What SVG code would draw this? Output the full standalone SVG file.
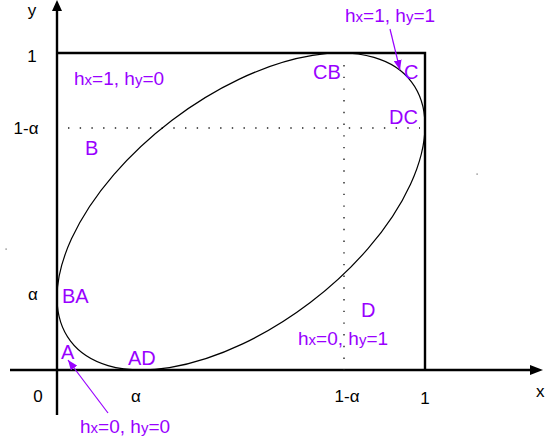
<svg xmlns="http://www.w3.org/2000/svg" width="545" height="444" viewBox="0 0 545 444">
<style>
.ax{stroke:#000;stroke-width:2.4;fill:none}
.dot{stroke:#222;stroke-width:1.4;stroke-dasharray:1.4 10.3;fill:none}
.lbl{font-family:"Liberation Sans",Arial,sans-serif;font-size:17px;fill:#000}
.p{font-family:"Liberation Sans",Arial,sans-serif;font-size:20px;fill:#9900ff}
.h{font-family:"Liberation Sans",Arial,sans-serif;font-size:19px;fill:#9900ff}
.s{font-size:15px}
.pa{stroke:#9900ff;stroke-width:1.2;fill:none;marker-end:url(#pm)}
</style>
<defs>
<marker id="pm" viewBox="0 0 10 8" refX="10" refY="4" markerWidth="10" markerHeight="8" markerUnits="userSpaceOnUse" orient="auto">
<path d="M0,0 L10,4 L0,8 Z" fill="#9900ff"/>
</marker>
</defs>
<rect width="545" height="444" fill="#fff"/>
<g id="connectors">
<line class="ax" x1="57" y1="8" x2="57" y2="415"/>
<path d="M57,0 L52,11 L62,11 Z" fill="#000"/>
<line class="ax" x1="10" y1="370" x2="533" y2="370"/>
<path d="M543,370 L530,365 L530,375 Z" fill="#000"/>
<path class="ax" d="M57,53 H425 V370"/>
<line class="dot" x1="344" y1="65" x2="344" y2="370"/>
<line class="dot" x1="68" y1="128" x2="420" y2="128"/>
<ellipse cx="241" cy="211.5" rx="214.2" ry="114.4" transform="rotate(-37.27 241 211.5)" fill="none" stroke="#000" stroke-width="1.2"/>
<line class="pa" x1="390" y1="29" x2="400" y2="70"/>
<line class="pa" x1="108" y1="413" x2="68" y2="360"/>
<rect x="476.5" y="173.5" width="1.2" height="1.2" fill="#666"/>
<rect x="5.5" y="248.5" width="1.2" height="1.2" fill="#666"/>
</g>
<g id="axis-labels">
<text class="lbl" x="32" y="16" text-anchor="middle">y</text>
<text class="lbl" x="32" y="62" text-anchor="middle">1</text>
<text class="lbl" x="26" y="134" text-anchor="middle">1-α</text>
<text class="lbl" x="33" y="300" text-anchor="middle">α</text>
<text class="lbl" x="38" y="402" text-anchor="middle">0</text>
<text class="lbl" x="136" y="402" text-anchor="middle">α</text>
<text class="lbl" x="347" y="402" text-anchor="middle">1-α</text>
<text class="lbl" x="425" y="404" text-anchor="middle">1</text>
<text class="lbl" x="536" y="397">x</text>
</g>
<g id="region-labels">
<text class="p" x="313" y="79">CB</text>
<text class="p" x="404" y="79">C</text>
<text class="p" x="389" y="124">DC</text>
<text class="p" x="85" y="155">B</text>
<text class="p" x="62" y="303">BA</text>
<text class="p" x="61" y="359">A</text>
<text class="p" x="128" y="365">AD</text>
<text class="p" x="361" y="317">D</text>
</g>
<g id="h-labels">
<text class="h" x="345" y="22">h<tspan class="s">x</tspan>=1, h<tspan class="s">y</tspan>=1</text>
<text class="h" x="74" y="85">h<tspan class="s">x</tspan>=1, h<tspan class="s">y</tspan>=0</text>
<text class="h" x="298" y="345">h<tspan class="s">x</tspan>=0, h<tspan class="s">y</tspan>=1</text>
<text class="h" x="80" y="433">h<tspan class="s">x</tspan>=0, h<tspan class="s">y</tspan>=0</text>
</g>
</svg>
